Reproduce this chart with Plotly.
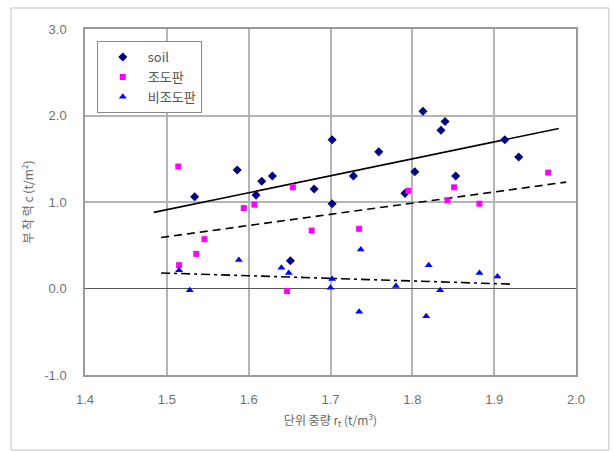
import plotly.graph_objects as go

# ---- data ----
soil_x = [1.534, 1.586, 1.609, 1.616, 1.629, 1.651, 1.680, 1.702, 1.702, 1.728,
          1.759, 1.791, 1.803, 1.813, 1.835, 1.840, 1.853, 1.913, 1.930]
soil_y = [1.06, 1.37, 1.08, 1.24, 1.30, 0.32, 1.15, 1.72, 0.98, 1.30,
          1.58, 1.10, 1.35, 2.05, 1.83, 1.93, 1.30, 1.72, 1.52]

jodo_x = [1.514, 1.515, 1.536, 1.546, 1.594, 1.607, 1.647, 1.654, 1.677, 1.735,
          1.795, 1.843, 1.851, 1.882, 1.966]
jodo_y = [1.41, 0.27, 0.40, 0.57, 0.93, 0.97, -0.03, 1.17, 0.67, 0.69,
          1.13, 1.02, 1.17, 0.98, 1.34]

bijodo_x = [1.515, 1.528, 1.588, 1.640, 1.649, 1.700, 1.702, 1.735, 1.737, 1.780,
            1.817, 1.820, 1.834, 1.882, 1.904]
bijodo_y = [0.21, -0.02, 0.33, 0.24, 0.18, 0.01, 0.11, -0.27, 0.45, 0.03,
            -0.32, 0.27, -0.02, 0.18, 0.14]

# trend lines (end points)
soil_trend_x = [1.484, 1.979]
soil_trend_y = [0.88, 1.85]
jodo_trend_x = [1.493, 1.988]
jodo_trend_y = [0.59, 1.23]
bijodo_trend_x = [1.493, 1.922]
bijodo_trend_y = [0.18, 0.05]

x_ticks = [1.4, 1.5, 1.6, 1.7, 1.8, 1.9, 2.0]
y_ticks = [-1.0, 0.0, 1.0, 2.0, 3.0]

FONT = "Liberation Sans Narrow, Arial Narrow, Liberation Sans, Noto Sans CJK KR, sans-serif"
KFONT = "Noto Sans CJK KR, Liberation Sans Narrow, sans-serif"

fig = go.Figure()

fig.add_trace(go.Scatter(x=soil_trend_x, y=soil_trend_y, mode="lines",
                         line=dict(color="black", width=1.6), showlegend=False, hoverinfo="skip"))
fig.add_trace(go.Scatter(x=jodo_trend_x, y=jodo_trend_y, mode="lines",
                         line=dict(color="black", width=1.6, dash="8px,5px"), showlegend=False, hoverinfo="skip"))
fig.add_trace(go.Scatter(x=bijodo_trend_x, y=bijodo_trend_y, mode="lines",
                         line=dict(color="black", width=1.6, dash="9px,4px,3px,4px"), showlegend=False, hoverinfo="skip"))

fig.add_trace(go.Scatter(x=soil_x, y=soil_y, mode="markers", name="soil",
                         marker=dict(symbol="diamond", color="#000080", size=7)))
fig.add_trace(go.Scatter(x=jodo_x, y=jodo_y, mode="markers", name="조도판",
                         marker=dict(symbol="square", color="#FF00FF", size=6)))
fig.add_trace(go.Scatter(x=bijodo_x, y=bijodo_y, mode="markers", name="비조도판",
                         marker=dict(symbol="triangle-up", color="#0000FF", size=7)))

fig.update_layout(
    width=614, height=451,
    margin=dict(l=85, r=38, t=29, b=76),
    paper_bgcolor="white", plot_bgcolor="white",
    font=dict(family=FONT, color="#666666", size=13),
    legend=dict(x=0.024, y=0.965, xanchor="left", yanchor="top",
                bgcolor="white", bordercolor="#888888", borderwidth=1,
                font=dict(family=KFONT, size=13, color="#555555"),
                itemwidth=40, tracegroupgap=2),
    xaxis=dict(range=[1.4, 2.0], tickvals=x_ticks, ticktext=[f"{v:.1f}" for v in x_ticks],
               showgrid=True, gridcolor="#b4b4b4", gridwidth=1.5,
               showline=True, linecolor="#999999", linewidth=1.5, mirror=True,
               zeroline=False, ticks="", ticklabelstandoff=12,
               tickfont=dict(size=13, color="#707070"),
               title=dict(text="단위 중량 r<sub>t</sub> (t/m<sup>3</sup>)",
                          font=dict(family=KFONT, size=12, color="#666666"), standoff=10)),
    yaxis=dict(range=[-1.0, 3.0], tickvals=y_ticks, ticktext=[f"{v:.1f}" for v in y_ticks],
               showgrid=True, gridcolor="#b4b4b4", gridwidth=1.5,
               showline=True, linecolor="#999999", linewidth=1.5, mirror=True,
               zeroline=True, zerolinecolor="#555555", zerolinewidth=1.2,
               ticks="", ticklabelstandoff=14,
               tickfont=dict(size=13, color="#707070"),
               title=dict(text="부 착 력 c (t/m<sup>2</sup>)",
                          font=dict(family=KFONT, size=12, color="#666666"), standoff=8)),
    shapes=[dict(type="rect", xref="paper", yref="paper",
                 x0=-0.1507, x1=1.067, y0=-0.2168, y1=1.0607,
                 line=dict(color="#c0c0c0", width=1), fillcolor="rgba(0,0,0,0)", layer="below")],
)

fig.write_html("out.html")
